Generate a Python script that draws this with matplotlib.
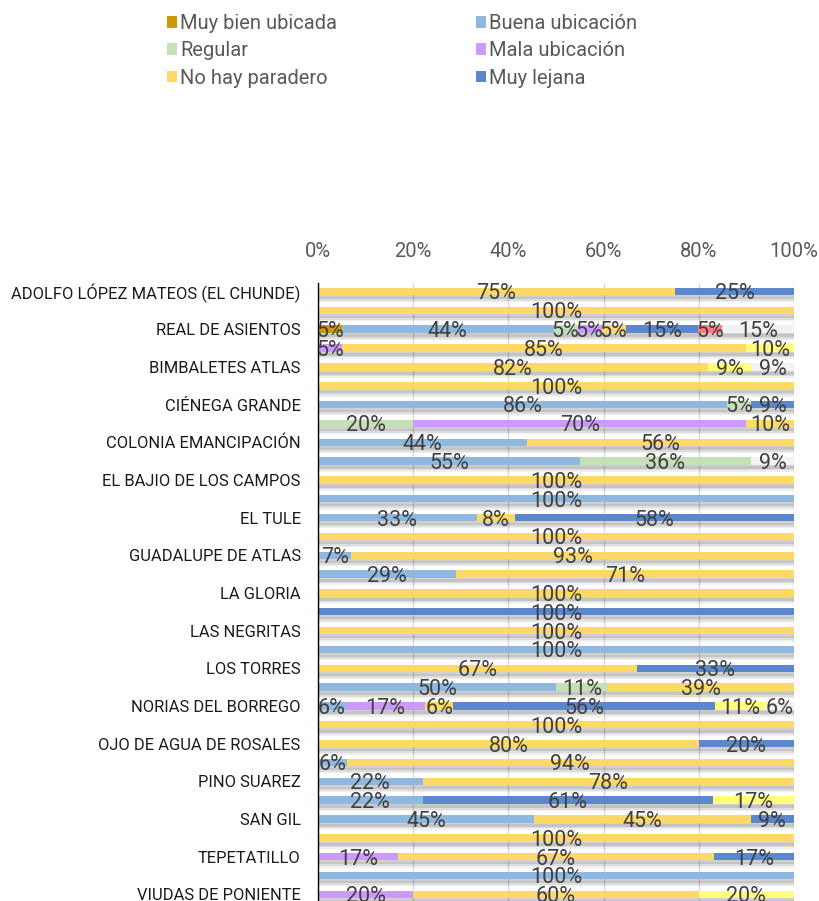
import matplotlib
matplotlib.use("Agg")
import matplotlib.pyplot as plt
from matplotlib.patches import Patch
import numpy as np

categories = [
    "ADOLFO LÓPEZ MATEOS (EL CHUNDE)", "", "REAL DE ASIENTOS", "", "BIMBALETES ATLAS", "",
    "CIÉNEGA GRANDE", "", "COLONIA EMANCIPACIÓN", "", "EL BAJIO DE LOS CAMPOS", "",
    "EL TULE", "", "GUADALUPE DE ATLAS", "", "LA GLORIA", "", "LAS NEGRITAS", "",
    "LOS TORRES", "", "NORIAS DEL BORREGO", "", "OJO DE AGUA DE ROSALES", "",
    "PINO SUAREZ", "", "SAN GIL", "", "TEPETATILLO", "", "VIUDAS DE PONIENTE",
]

muy_bien = [0, 0, 5, 0, 0, 0, 0, 0, 0, 0, 0, 0, 0, 0, 0, 0, 0, 0, 0, 0, 0, 0, 0, 0, 0, 0, 0, 0, 0, 0, 0, 0, 0]
buena    = [0, 0, 44, 0, 0, 0, 86, 0, 44, 55, 0, 100, 33, 0, 7, 29, 0, 0, 0, 100, 0, 50, 6, 0, 0, 6, 22, 22, 45, 0, 0, 100, 0]
regular  = [0, 0, 5, 0, 0, 0, 5, 20, 0, 36, 0, 0, 0, 0, 0, 0, 0, 0, 0, 0, 0, 11, 0, 0, 0, 0, 0, 0, 0, 0, 0, 0, 0]
mala     = [0, 0, 5, 5, 0, 0, 0, 70, 0, 0, 0, 0, 0, 0, 0, 0, 0, 0, 0, 0, 0, 0, 17, 0, 0, 0, 0, 0, 0, 0, 17, 0, 20]
no_hay   = [75, 100, 5, 85, 82, 100, 0, 10, 56, 0, 100, 0, 8, 100, 93, 71, 100, 0, 100, 0, 67, 39, 6, 100, 80, 94, 78, 0, 45, 100, 67, 0, 60]
lejana   = [25, 0, 15, 0, 0, 0, 9, 0, 0, 0, 0, 0, 58, 0, 0, 0, 0, 100, 0, 0, 33, 0, 56, 0, 20, 0, 0, 61, 9, 0, 17, 0, 0]
otro_a   = [0, 0, 5, 0, 0, 0, 0, 0, 0, 0, 0, 0, 0, 0, 0, 0, 0, 0, 0, 0, 0, 0, 0, 0, 0, 0, 0, 0, 0, 0, 0, 0, 0]
otro_b   = [0, 0, 0, 10, 9, 0, 0, 0, 0, 0, 0, 0, 0, 0, 0, 0, 0, 0, 0, 0, 0, 0, 11, 0, 0, 0, 0, 17, 0, 0, 0, 0, 20]
otro_c   = [0, 0, 15, 0, 9, 0, 0, 0, 0, 9, 0, 0, 0, 0, 0, 0, 0, 0, 0, 0, 0, 0, 6, 0, 0, 0, 0, 0, 0, 0, 0, 0, 0]

series_names = ["Muy bien ubicada", "Buena ubicación", "Regular", "Mala ubicación",
                "No hay paradero", "Muy lejana", "Otro A", "Otro B", "Otro C"]
series = [muy_bien, buena, regular, mala, no_hay, lejana, otro_a, otro_b, otro_c]
colors = ["#CC9900", "#8EB8E0", "#C5E0B4", "#CC99FF", "#FFD966", "#5B87CC",
          "#FF7C80", "#FFFF7A", "#F2F2F2"]
tick_vals = [0, 20, 40, 60, 80, 100]
tick_labels = ["0%", "20%", "40%", "60%", "80%", "100%"]

data = np.array(series, dtype=float)          # (nseries, ncat)
totals = data.sum(axis=0)
norm = data / totals * 100.0                   # 100% stacked

W, H = 820, 901
fig = plt.figure(figsize=(W / 100, H / 100), dpi=100)

ax_top = 283
ax = fig.add_axes([318 / W, 0.0, 476 / W, 1 - ax_top / H])
n = len(categories)
row_px = 18.84
y_top = -0.45
y_bot = y_top + (H - ax_top) / row_px
ax.set_ylim(y_bot, y_top)
ax.set_xlim(0, 100)

y = np.arange(n)
bh = 0.39

# grid
for t in tick_vals:
    ax.axvline(t, color="#D9D9D9", lw=1.0, zorder=0)

# shadows
lefts = np.zeros(n)
for k in range(len(series)):
    w = norm[k]
    for off, hh, a in [(0.28, 0.26, 0.11), (0.34, 0.32, 0.08), (0.43, 0.30, 0.06)]:
        ax.barh(y + off, w, left=lefts, height=hh, color="#000000", alpha=a,
                linewidth=0, zorder=1)
    lefts += w

lefts = np.zeros(n)
for k in range(len(series)):
    w = norm[k]
    ax.barh(y, w, left=lefts, height=bh, color=colors[k], linewidth=0, zorder=2)
    for i in range(n):
        if data[k, i] > 0:
            ax.text(lefts[i] + w[i] / 2, y[i] + 0.13, f"{int(round(data[k, i]))}%",
                    ha="center", va="center", fontsize=15.5, color="#404040",
                    family="Roboto", zorder=5)
    lefts += w

ax.xaxis.tick_top()
ax.set_xticks(tick_vals)
ax.set_xticklabels(tick_labels, fontsize=14.5, color="#595959", family="Roboto")
ax.tick_params(axis="x", length=0, pad=15.5)

ax.set_yticks(y)
ax.set_yticklabels(categories, fontsize=11.9, color="#1A1A1A", family="Roboto")
ax.tick_params(axis="y", length=0, pad=12.5)

for s in ["top", "right", "bottom"]:
    ax.spines[s].set_visible(False)
ax.spines["left"].set_color("#000000")
ax.spines["left"].set_linewidth(1.0)
ax.set_facecolor("white")

order = [0, 2, 4, 1, 3, 5]
handles = [Patch(facecolor=colors[k], edgecolor="none") for k in order]
labels = [series_names[k] for k in order]
leg = fig.legend(handles, labels, loc="upper left", bbox_to_anchor=(149 / W, 1 + 4 / H),
                 ncol=2, frameon=False, handlelength=0.5, handleheight=0.5,
                 handletextpad=0.15, columnspacing=6.9, labelspacing=0.41,
                 prop={"family": "Roboto", "size": 14.5})
for t in leg.get_texts():
    t.set_color("#595959")

fig.savefig("out.png", dpi=100)
